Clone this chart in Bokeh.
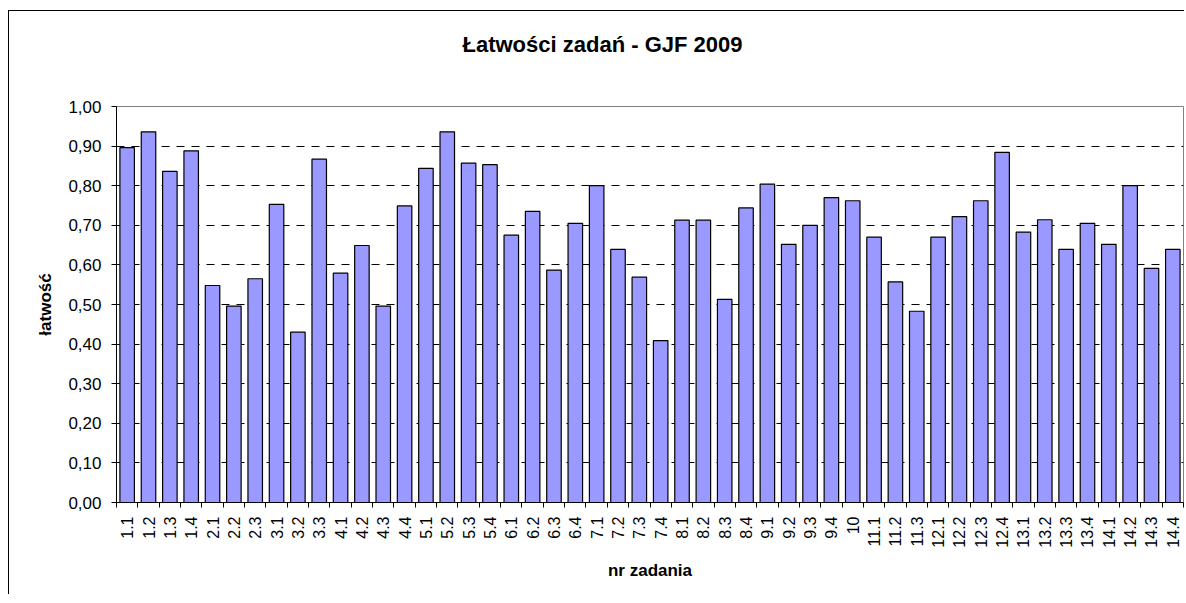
import math
from bokeh.plotting import figure
from bokeh.models import FixedTicker, Range1d, Title
from bokeh.embed import file_html
from bokeh.resources import INLINE

categories = ["1.1", "1.2", "1.3", "1.4", "2.1", "2.2", "2.3", "3.1", "3.2", "3.3",
              "4.1", "4.2", "4.3", "4.4", "5.1", "5.2", "5.3", "5.4", "6.1", "6.2",
              "6.3", "6.4", "7.1", "7.2", "7.3", "7.4", "8.1", "8.2", "8.3", "8.4",
              "9.1", "9.2", "9.3", "9.4", "10", "11.1", "11.2", "11.3", "12.1", "12.2",
              "12.3", "12.4", "13.1", "13.2", "13.3", "13.4", "14.1", "14.2", "14.3", "14.4"]
values = [0.896, 0.936, 0.836, 0.888, 0.548, 0.496, 0.565, 0.753, 0.430, 0.867,
          0.579, 0.649, 0.496, 0.749, 0.844, 0.936, 0.857, 0.853, 0.675, 0.735,
          0.587, 0.705, 0.800, 0.639, 0.569, 0.409, 0.713, 0.713, 0.513, 0.744,
          0.804, 0.652, 0.700, 0.770, 0.762, 0.670, 0.557, 0.483, 0.670, 0.722,
          0.762, 0.884, 0.683, 0.714, 0.639, 0.705, 0.652, 0.800, 0.591, 0.639]
y_ticks = [0.0, 0.1, 0.2, 0.3, 0.4, 0.5, 0.6, 0.7, 0.8, 0.9, 1.0]
y_tick_labels = ["0,00", "0,10", "0,20", "0,30", "0,40", "0,50",
                 "0,60", "0,70", "0,80", "0,90", "1,00"]
title_text = "Łatwości zadań - GJF 2009"
x_title = "nr zadania"
y_title = "łatwość"

FONT = "Liberation Sans"
n = len(categories)
positions = [i + 0.5 for i in range(n)]
boundaries = list(range(n + 1))

p = figure(width=1176, height=584,
           x_range=Range1d(0, n), y_range=Range1d(y_ticks[0], y_ticks[-1]),
           output_backend="svg", toolbar_location=None,
           min_border_left=107, min_border_right=2,
           min_border_top=95, min_border_bottom=93,
           title=title_text)
p.styles = {"border-top": "1px solid black", "border-left": "1px solid black",
            "margin-top": "10px", "margin-left": "8px"}
p.background_fill_color = "white"
p.border_fill_color = "white"
p.outline_line_color = "#808080"
p.outline_line_width = 1

p.title.align = "left"
p.title.offset = 346
p.title.standoff = 37
p.title.text_font = FONT
p.title.text_font_style = "bold"
p.title.text_font_size = "22px"
p.title.text_color = "black"

# empty spacer between the title and the plot frame
spacer = Title(text=" ", text_font_size="1px", standoff=28)
p.add_layout(spacer, "above")

p.vbar(x=positions, top=values, bottom=0, width=0.68,
       fill_color="#9999FF", line_color="black", line_width=1.2)

# x axis
xa = p.xaxis[0]
xa.ticker = FixedTicker(ticks=positions, minor_ticks=boundaries)
xa.major_label_overrides = {pos: cat for pos, cat in zip(positions, categories)}
xa.major_label_orientation = math.pi / 2
xa.major_tick_line_color = None
xa.major_tick_out = 5
xa.major_tick_in = 0
xa.minor_tick_line_color = "black"
xa.minor_tick_out = 5
xa.minor_tick_in = 0
xa.major_label_standoff = 9
xa.major_label_text_font = FONT
xa.major_label_text_font_size = "16px"
xa.major_label_text_color = "black"
xa.axis_line_color = "black"
xa.axis_label = x_title
xa.axis_label_text_font = FONT
xa.axis_label_text_font_style = "bold"
xa.axis_label_text_font_size = "17px"
xa.axis_label_text_color = "black"
xa.axis_label_standoff = 10

# y axis
ya = p.yaxis[0]
ya.ticker = FixedTicker(ticks=y_ticks, minor_ticks=[])
ya.major_label_overrides = dict(zip(y_ticks, y_tick_labels))
ya.major_tick_line_color = "black"
ya.major_tick_out = 5
ya.major_tick_in = 0
ya.minor_tick_line_color = None
ya.major_label_standoff = 10
ya.major_label_text_font = FONT
ya.major_label_text_font_size = "17px"
ya.major_label_text_color = "black"
ya.axis_line_color = "black"
ya.axis_label = y_title
ya.axis_label_text_font = FONT
ya.axis_label_text_font_style = "bold"
ya.axis_label_text_font_size = "17px"
ya.axis_label_text_color = "black"
ya.axis_label_standoff = 10

p.xgrid.visible = False
p.ygrid.ticker = FixedTicker(ticks=y_ticks[1:-1])
p.ygrid.grid_line_color = "black"
p.ygrid.grid_line_dash = "8 7"
p.ygrid.grid_line_width = 1

open("out.html", "w").write(file_html(p, INLINE))
